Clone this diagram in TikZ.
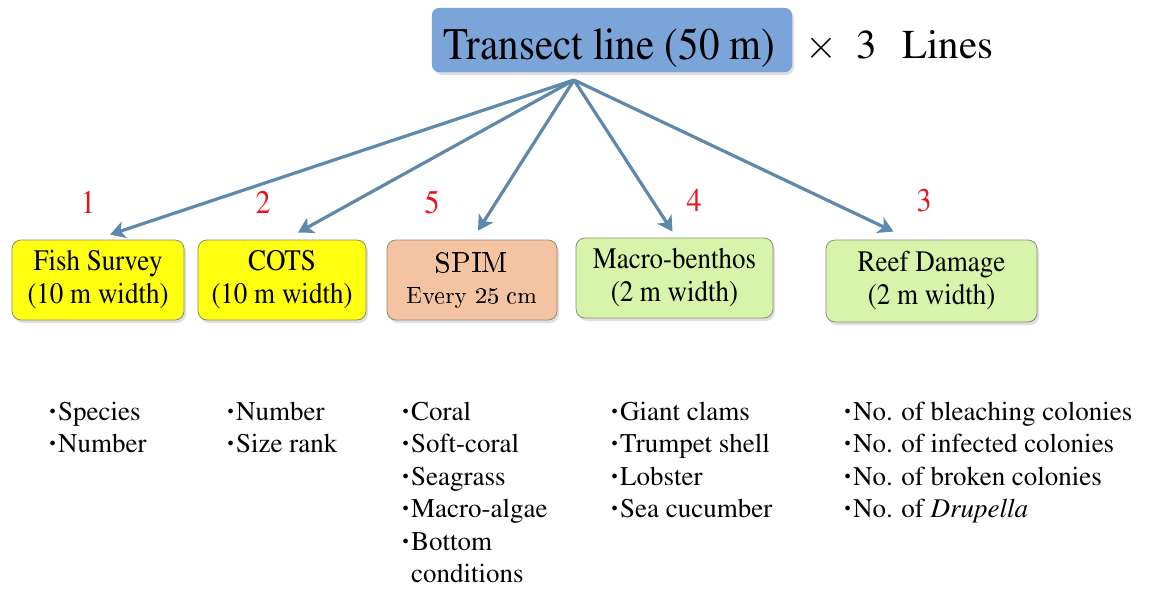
\documentclass[tikz,border=0pt]{standalone}
\usepackage[T1]{fontenc}
\usepackage{mathptmx}
\usetikzlibrary{arrows.meta,shadows,calc}
\definecolor{titlefill}{HTML}{7BA5D8}
\definecolor{titledraw}{HTML}{6C93C4}
\definecolor{yell}{HTML}{FFFF10}
\definecolor{peach}{HTML}{F4C4A2}
\definecolor{lgreen}{HTML}{D8F4AA}
\definecolor{arrowc}{HTML}{5E88AC}
\definecolor{numred}{HTML}{E8141E}
\definecolor{boxdraw}{HTML}{8C8C7C}
\tikzset{
  catbox/.style={draw=boxdraw, line width=0.8pt, rounded corners=9pt, align=center,
     font=\fontsize{27}{33}\selectfont, inner sep=0pt,
     drop shadow={opacity=0.25, shadow xshift=2pt, shadow yshift=-3pt}},
  num/.style={text=numred, font=\fontsize{30}{30}\selectfont, anchor=base},
  item/.style={anchor=base west, font=\fontsize{27}{30}\selectfont, inner sep=0pt},
  conn/.style={draw=arrowc, line width=3.2pt, -{Stealth[length=15pt,width=17pt,inset=4pt]}}
}
\newcommand{\bul}{\makebox[11pt][c]{\raisebox{0.22em}{\scalebox{0.45}{$\bullet$}}}}
\newcommand{\vs}[1]{\scalebox{1}[1.1]{#1}}
\newcommand{\lmbig}[2]{\scalebox{#1}{\fontfamily{lmr}\fontsize{10}{12}\selectfont #2}}
\begin{document}
\begin{tikzpicture}[x=1pt,y=-1pt]
\useasboundingbox (0,0) rectangle (1154,592);
\fill[white] (0,0) rectangle (1154,592);
% title
\node[draw=titledraw, fill=titlefill, rounded corners=8pt, minimum width=360pt, minimum height=64pt,
  drop shadow={opacity=0.25, shadow xshift=2pt, shadow yshift=-3pt}] (title) at (612,40) {};
\node[anchor=base west, inner sep=0pt, font=\fontsize{41}{45}\selectfont] (ttext) at (443,59) {\vs{Transect line (50 m)}};
\node[anchor=base west, inner sep=0pt, font=\fontsize{41}{45}\selectfont] (mult) at (805,58) {$\times$};
\node[anchor=base west, inner sep=0pt, font=\fontsize{41}{45}\selectfont] (three) at (856,58) {3};
\node[anchor=base west, inner sep=0pt, font=\fontsize{41}{45}\selectfont] (lines) at (902,58) {Lines};
\coordinate (src) at (574,80);
% boxes
\node[catbox, fill=yell, minimum width=172pt, minimum height=80pt] (fish) at (98,280) {\vs{Fish Survey}\\\vs{(10 m width)}};
\node[catbox, fill=yell, minimum width=168pt, minimum height=80pt] (cots) at (282,280) {\vs{COTS}\\\vs{(10 m width)}};
\node[catbox, fill=peach, minimum width=170pt, minimum height=80pt] (spim) at (472,280) {\lmbig{2.9}{SPIM}\\[-2pt]\lmbig{2.38}{Every 25 cm}};
\node[catbox, fill=lgreen, minimum width=197pt, minimum height=80pt] (macro) at (674.5,278) {\vs{Macro-benthos}\\\vs{(2 m width)}};
\node[catbox, fill=lgreen, minimum width=211pt, minimum height=82pt] (reef) at (931.5,281) {\vs{Reef Damage}\\\vs{(2 m width)}};
% arrows
\draw[conn] (src) -- ([xshift=12pt,yshift=5pt]fish.north);
\draw[conn] (src) -- ([xshift=16pt,yshift=7pt]cots.north);
\draw[conn] (src) -- ([xshift=6pt,yshift=9pt]spim.north);
\draw[conn] (src) -- ([xshift=-2pt,yshift=6pt]macro.north);
\draw[conn] (src) -- ([xshift=-38pt,yshift=8pt]reef.north);
% numbers
\node[num] (n1) at (88,213) {\vs{1}};
\node[num] (n2) at (263,213) {\vs{2}};
\node[num] (n5) at (432,213) {\vs{5}};
\node[num] (n4) at (694,211) {\vs{4}};
\node[num] (n3) at (924,211) {\vs{3}};
% lists
\node[item] (l11) at (47,420) {\bul Species};
\node[item] (l12) at (47,452) {\bul Number};
\node[item] (l21) at (225,420) {\bul Number};
\node[item] (l22) at (225,452) {\bul Size rank};
\node[item] (l31) at (400,420) {\bul Coral};
\node[item] (l32) at (400,452) {\bul Soft-coral};
\node[item] (l33) at (400,485) {\bul Seagrass};
\node[item] (l34) at (400,517) {\bul Macro-algae};
\node[item] (l35) at (400,550) {\bul Bottom};
\node[item] (l36) at (411,582) {conditions};
\node[item] (l41) at (609,420) {\bul Giant clams};
\node[item] (l42) at (609,452) {\bul Trumpet shell};
\node[item] (l43) at (609,485) {\bul Lobster};
\node[item] (l44) at (609,517) {\bul Sea cucumber};
\node[item] (l51) at (842,420) {\bul No. of bleaching colonies};
\node[item] (l52) at (842,452) {\bul No. of infected colonies};
\node[item] (l53) at (842,485) {\bul No. of broken colonies};
\node[item] (l54) at (842,517) {\bul No. of \textit{Drupella}};
\end{tikzpicture}
\end{document}
